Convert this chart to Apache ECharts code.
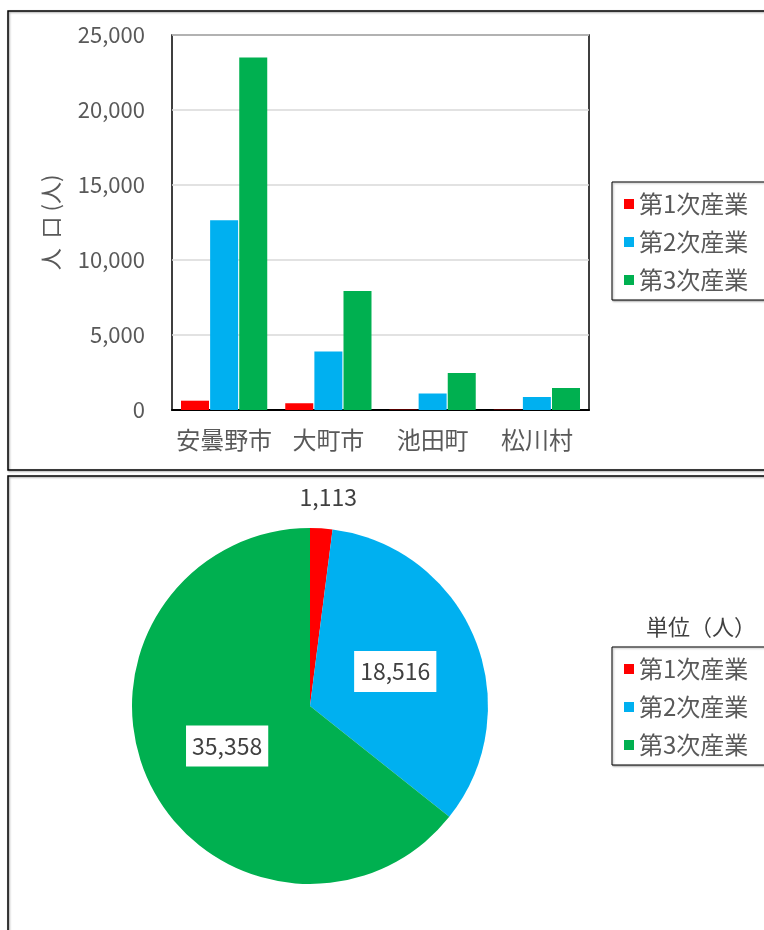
<!DOCTYPE html>
<html>
<head>
<meta charset="utf-8">
<script src="https://cdn.jsdelivr.net/npm/echarts@6/dist/echarts.min.js"></script>
<style>
	html, body { margin: 0; padding: 0; background: #fff; }
	#main { width: 764px; height: 930px; }
</style>
</head>
<body>
<div id="main"></div>
<script>
	//市町村
	var cities = ['安曇野市', '大町市', '池田町', '松川村'];
	//産業区分
	var sectors = ['第1次産業', '第2次産業', '第3次産業'];
	var colors = ['#ff0000', '#00b0f0', '#00b050'];
	//人口(人) 市町村別
	var primary = [620, 450, 23, 20];
	var secondary = [12650, 3900, 1100, 866];
	var tertiary = [23500, 7930, 2460, 1468];
	//合計(円グラフ)
	var totals = [1113, 18516, 35358];
	var yTicks = { min: 0, max: 25000, interval: 5000 };

	var fontName = '"Noto Sans CJK JP", "Noto Sans", sans-serif';
	var textColor = '#595959';

	var fmt = function(v) {
		return String(v).replace(/\B(?=(\d{3})+(?!\d))/g, ',');
	};

	var barSeries = [primary, secondary, tertiary].map(function(arr, i) {
		return {
			name: sectors[i],
			type: 'bar',
			barWidth: 28,
			barGap: '4%',
			itemStyle: { color: colors[i] },
			data: arr
		};
	});

	var pieData = totals.map(function(v, i) {
		var item = { name: sectors[i], value: v, itemStyle: { color: colors[i] } };
		if (i == 0) {
			//小さい扇形は外側にラベル
			item.label = { position: 'outside', backgroundColor: 'transparent', padding: 0 };
			item.labelLine = { show: false, length: 31, length2: 0 };
		}
		return item;
	});

	var legendBase = {
		orient: 'vertical',
		icon: 'rect',
		itemWidth: 10,
		itemHeight: 10,
		itemGap: 14,
		padding: [10, 20, 8, 12],
		borderColor: '#000',
		borderWidth: 1,
		shadowColor: 'rgba(0,0,0,0.35)',
		shadowBlur: 2,
		shadowOffsetX: 1,
		shadowOffsetY: 1,
		backgroundColor: '#fff',
		textStyle: { fontFamily: fontName, fontSize: 24, lineHeight: 24, color: textColor },
		data: sectors
	};

	var chart = echarts.init(document.getElementById('main'));
	chart.setOption({
		animation: false,
		textStyle: { fontFamily: fontName },
		graphic: [{
			type: 'rect',
			shape: { x: 8, y: 11, width: 800, height: 459 },
			style: { fill: 'none', stroke: '#000', lineWidth: 1.5, shadowColor: 'rgba(0,0,0,0.4)', shadowBlur: 2, shadowOffsetX: 1, shadowOffsetY: 1 },
			z: -1
		}, {
			type: 'rect',
			shape: { x: 8, y: 476, width: 800, height: 500 },
			style: { fill: 'none', stroke: '#000', lineWidth: 1.5, shadowColor: 'rgba(0,0,0,0.4)', shadowBlur: 2, shadowOffsetX: 1, shadowOffsetY: 1 },
			z: -1
		}],
		title: {
			text: '単位（人）',
			left: 641,
			top: 611,
			textStyle: { fontFamily: fontName, fontSize: 22, fontWeight: 'normal', color: '#404040' }
		},
		legend: [
			$extend(legendBase, { left: 612, top: 182 }),
			$extend(legendBase, { left: 612, top: 647 })
		],
		grid: {
			left: 172,
			top: 35,
			width: 417,
			height: 375,
			show: true,
			borderColor: '#000',
			borderWidth: 1.5
		},
		xAxis: {
			type: 'category',
			data: cities,
			axisLine: { lineStyle: { color: '#000', width: 2 } },
			axisTick: { show: false },
			axisLabel: { fontSize: 24, color: textColor, margin: 18, interval: 0 }
		},
		yAxis: {
			type: 'value',
			min: yTicks.min,
			max: yTicks.max,
			interval: yTicks.interval,
			name: '人  口 (人)',
			nameLocation: 'middle',
			nameRotate: 90,
			nameGap: 110,
			nameTextStyle: { fontSize: 22, color: textColor },
			axisLine: { show: false },
			axisTick: { show: false },
			splitLine: { lineStyle: { color: '#d9d9d9', width: 1.5 } },
			axisLabel: { fontSize: 22, color: textColor, margin: 27, formatter: fmt }
		},
		series: barSeries.concat([{
			type: 'pie',
			center: [310, 706],
			radius: 178,
			startAngle: 90,
			clockwise: true,
			legendIndex: 1,
			label: {
				position: 'inside',
				fontSize: 23,
				color: '#404040',
				backgroundColor: '#fff',
				padding: [9, 6],
				formatter: function(p) { return fmt(p.value); }
			},
			labelLayout: function(p) {
				if (p.dataIndex == 0) {
					return { align: 'center', verticalAlign: 'middle' };
				}
			},
			emphasis: { disabled: true },
			data: pieData
		}])
	});

	function $extend(base, add) {
		var o = {};
		for (var k in base) o[k] = base[k];
		for (var k2 in add) o[k2] = add[k2];
		return o;
	}
</script>
</body>
</html>
